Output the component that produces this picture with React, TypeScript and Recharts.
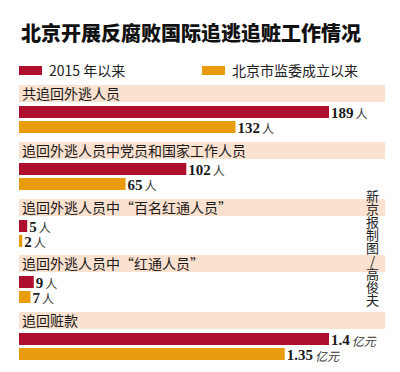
import { BarChart, Bar, XAxis, YAxis, Cell, LabelList } from 'recharts'

const series = ['2015 年以来', '北京市监委成立以来']
const groups = [
  '共追回外逃人员',
  '追回外逃人员中党员和国家工作人员',
  '追回外逃人员中“百名红通人员”',
  '追回外逃人员中“红通人员”',
  '追回赃款',
]
const since2015 = [189, 102, 5, 9, 1.4]
const sinceCommission = [132, 65, 2, 7, 1.35]
const units = ['人', '人', '人', '人', '亿元']

const colors = ['#ad0f2c', '#e99c0d']
const bandColor = '#fbe1cf'
const bandTops = [85, 142, 199, 255, 312]
const sans = '"Noto Sans CJK SC", "Noto Sans", sans-serif'

// people share one scale; the money group has its own (the original doesn't start it at 0)
const peopleMax = Math.max(...since2015.slice(0, 4), ...sinceCommission.slice(0, 4))
const moneyAxisStart = 1.05

function valueLabel(unit: string, money: boolean) {
  return (props: any) => {
    const { x, y, width, height, value } = props
    return (
      <text x={Number(x) + Number(width) + 2} y={Number(y) + Number(height) / 2 + 0.5} dominantBaseline="central">
        <tspan fontFamily='"Liberation Serif", serif' fontWeight="bold" fontSize={15} fill="#1a1a1a">
          {String(value)}
        </tspan>
        <tspan
          fontFamily={sans}
          fontSize={12}
          fontStyle={money ? 'italic' : 'normal'}
          fill="#333"
          dx={2}
        >
          {unit}
        </tspan>
      </text>
    )
  }
}

function Group({ index }: { index: number }) {
  const money = units[index] !== '人'
  const data = [
    { name: series[0], value: since2015[index] },
    { name: series[1], value: sinceCommission[index] },
  ]
  const top = bandTops[index]
  return (
    <>
      <div
        style={{
          position: 'absolute',
          left: 19,
          top,
          width: 366,
          height: 17,
          background: bandColor,
        }}
      />
      <div
        style={{
          position: 'absolute',
          left: 22,
          top,
          height: 17,
          lineHeight: '17px',
          fontSize: 14,
          fontFamily: sans,
          color: '#1a1a1a',
          whiteSpace: 'nowrap',
        }}
      >
        {groups[index]}
      </div>
      <div style={{ position: 'absolute', left: 19, top: top + 12.5 }}>
        <BarChart
          width={380}
          height={42}
          data={data}
          layout="vertical"
          margin={{ top: 6, right: 70, bottom: 6, left: 0 }}
          barCategoryGap={0}
        >
          <XAxis
            type="number"
            hide
            domain={money ? [moneyAxisStart, Math.max(since2015[index], sinceCommission[index])] : [0, peopleMax]}
            allowDataOverflow
          />
          <YAxis type="category" dataKey="name" hide />
          <Bar dataKey="value" barSize={12} isAnimationActive={false}>
            {data.map((d, i) => (
              <Cell key={d.name} fill={colors[i]} />
            ))}
            <LabelList dataKey="value" content={valueLabel(units[index], money)} />
          </Bar>
        </BarChart>
      </div>
    </>
  )
}

export default function App() {
  return (
    <div
      style={{
        position: 'absolute',
        left: 0,
        top: 0,
        width: 400,
        height: 372,
        background: '#fff',
        overflow: 'hidden',
      }}
    >
      <div
        style={{
          position: 'absolute',
          left: 21,
          top: 20,
          fontSize: 20,
          fontWeight: 900,
          fontFamily: sans,
          color: '#111',
          whiteSpace: 'nowrap',
          lineHeight: '26px',
        }}
      >
        北京开展反腐败国际追逃追赃工作情况
      </div>
      {series.map((s, i) => (
        <div
          key={s}
          style={{
            position: 'absolute',
            left: i === 0 ? 19 : 202,
            top: 61,
            display: 'flex',
            alignItems: 'center',
            fontSize: 14,
            fontFamily: sans,
            color: '#222',
            whiteSpace: 'pre',
            height: 18,
          }}
        >
          <span style={{ display: 'inline-block', width: 23, height: 9, background: colors[i], marginRight: 7 }} />
          {s}
        </div>
      ))}
      {groups.map((g, i) => (
        <Group key={g} index={i} />
      ))}
      <div
        style={{
          position: 'absolute',
          left: 364,
          top: 190,
          writingMode: 'vertical-rl',
          textOrientation: 'upright',
          fontSize: 13,
          lineHeight: '16px',
          fontFamily: sans,
          color: '#222',
        }}
      >
        新京报制图/高俊夫
      </div>
    </div>
  )
}
